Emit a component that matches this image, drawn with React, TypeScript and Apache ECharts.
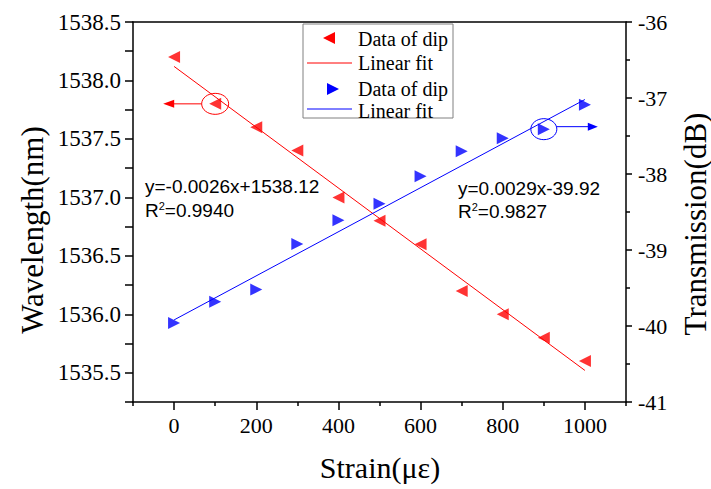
import React, { useEffect, useRef } from "react";
import * as echarts from "echarts";

// ---- data ----
const strain = [0, 100, 200, 300, 400, 500, 600, 700, 800, 900, 1000];
const wavelength = [1538.2, 1537.8, 1537.6, 1537.4, 1537.0, 1536.8, 1536.6, 1536.2, 1536.0, 1535.8, 1535.6];
const transmission = [-39.96, -39.68, -39.52, -38.92, -38.61, -38.39, -38.03, -37.7, -37.53, -37.41, -37.09];
const fitStrain = [0, 1000];
const wavelengthFit = [1538.12, 1535.52];
const transmissionFit = [-39.92, -37.02];

const xMajorTicks = [0, 200, 400, 600, 800, 1000];
const xMinorTicks = [-100, 100, 300, 500, 700, 900, 1100];
const leftTicks = [1535.25, 1535.5, 1535.75, 1536.0, 1536.25, 1536.5, 1536.75, 1537.0, 1537.25, 1537.5, 1537.75, 1538.0, 1538.25, 1538.5];
const leftLabels = [1535.5, 1536.0, 1536.5, 1537.0, 1537.5, 1538.0, 1538.5];
const rightLabels = [-41, -40, -39, -38, -37, -36];

const legendTexts = ["Data of dip", "Linear fit", "Data of dip", "Linear fit"];
const redEq = "y=-0.0026x+1538.12";
const redR2 = "0.9940";
const blueEq = "y=0.0029x-39.92";
const blueR2 = "0.9827";

const SERIF = "Liberation Serif";
const SANS = "Liberation Sans";
const RED = "#ff0000";
const BLUE = "#0000ff";
const AX = { color: "#000", width: 1.5 };

export default function App() {
  const ref = useRef<HTMLDivElement>(null);
  useEffect(() => {
    const chart = echarts.init(ref.current!, null, { renderer: "svg" });
    chart.setOption({
      animation: false,
      backgroundColor: "#fff",
      grid: { left: 133, top: 22, right: 85, bottom: 87, containLabel: false, outerBoundsMode: "none" },
      xAxis: [
        {
          type: "value", min: -100, max: 1100, position: "bottom",
          axisLine: { onZero: false, lineStyle: AX },
          axisTick: { show: true, length: 8, customValues: xMajorTicks, lineStyle: AX },
          axisLabel: { show: false },
          splitLine: { show: false },
        },
        {
          type: "value", min: -100, max: 1100, position: "bottom",
          axisLine: { show: false, onZero: false },
          axisTick: { show: true, length: 4, customValues: xMinorTicks, lineStyle: AX },
          axisLabel: { show: false },
          splitLine: { show: false },
        },
        {
          type: "value", min: -100, max: 1100, position: "top",
          axisLine: { onZero: false, lineStyle: AX },
          axisTick: { show: false },
          axisLabel: { show: false },
          splitLine: { show: false },
        },
      ],
      yAxis: [
        {
          type: "value", min: 1535.25, max: 1538.5, position: "left",
          axisLine: { onZero: false, lineStyle: AX },
          axisTick: { show: true, length: 8, customValues: leftTicks, lineStyle: AX },
          axisLabel: { show: false },
          splitLine: { show: false },
        },
        {
          type: "value", min: -41, max: -36, interval: 1, position: "right",
          axisLine: { onZero: false, lineStyle: AX },
          axisTick: { show: true, length: 6, lineStyle: AX },
          minorTick: { show: true, splitNumber: 2, length: 4, lineStyle: AX },
          axisLabel: { show: false },
          splitLine: { show: false },
        },
      ],
      series: [
        {
          type: "scatter", xAxisIndex: 0, yAxisIndex: 0,
          data: strain.map((s, i) => [s, wavelength[i]]),
          symbol: "triangle", symbolRotate: 90, symbolSize: 12,
          itemStyle: { color: RED }, z: 3,
        },
        {
          type: "line", xAxisIndex: 0, yAxisIndex: 0,
          data: fitStrain.map((s, i) => [s, wavelengthFit[i]]),
          showSymbol: false, lineStyle: { color: RED, width: 1 }, z: 2,
        },
        {
          type: "scatter", xAxisIndex: 0, yAxisIndex: 1,
          data: strain.map((s, i) => [s, transmission[i]]),
          symbol: "triangle", symbolRotate: -90, symbolSize: 12,
          itemStyle: { color: BLUE }, z: 3,
        },
        {
          type: "line", xAxisIndex: 0, yAxisIndex: 1,
          data: fitStrain.map((s, i) => [s, transmissionFit[i]]),
          showSymbol: false, lineStyle: { color: BLUE, width: 1 }, z: 2,
        },
      ],
    });

    const pR = chart.convertToPixel({ seriesIndex: 0 }, [strain[1], wavelength[1]]) as number[];
    const pB = chart.convertToPixel({ seriesIndex: 2 }, [strain[9], transmission[9]]) as number[];
    const xPix = (v: number) => (chart.convertToPixel({ xAxisIndex: 0 }, v) as number);
    const yLPix = (v: number) => (chart.convertToPixel({ yAxisIndex: 0 }, v) as number);
    const yRPix = (v: number) => (chart.convertToPixel({ yAxisIndex: 1 }, v) as number);

    const txt = (text: string, x: number, y: number, fontFamily: string, fontSize: number, align: string) => ({
      type: "text", x, y, z: 10,
      style: { text, fontFamily, fontSize, fill: "#000", align, verticalAlign: "middle" },
    });
    const r2Style = (val: string, x: number, y: number) => ({
      type: "text", x, y, z: 10,
      style: {
        text: "R{s|2}=" + val, fontFamily: SANS, fontSize: 19, fill: "#000", align: "left", verticalAlign: "middle",
        rich: { s: { fontFamily: SANS, fontSize: 11, verticalAlign: "top", fill: "#000", padding: [0, 0, 8, 0] } },
      },
    });

    const tickTexts = [
      ...xMajorTicks.map((v) => txt(String(v), xPix(v), 425, SERIF, 22, "center")),
      ...leftLabels.map((v) => txt(v.toFixed(1), 121, yLPix(v), SERIF, 23, "right")),
      ...rightLabels.map((v) => txt(String(v), 638, yRPix(v), SERIF, 22, "left")),
    ];

    chart.setOption({
      graphic: [
        ...tickTexts,
        // legend
        { type: "rect", shape: { x: 303, y: 24, width: 150, height: 94 }, style: { fill: "#fff", stroke: "#808080", lineWidth: 1 }, z: 9 },
        { type: "polygon", shape: { points: [[323, 38], [335, 32], [335, 44]] }, style: { fill: RED }, z: 10 },
        { type: "line", shape: { x1: 307, y1: 63, x2: 352, y2: 63 }, style: { stroke: RED, lineWidth: 1 }, z: 10 },
        { type: "polygon", shape: { points: [[339, 89], [327, 83], [327, 95]] }, style: { fill: BLUE }, z: 10 },
        { type: "line", shape: { x1: 307, y1: 109, x2: 352, y2: 109 }, style: { stroke: BLUE, lineWidth: 1 }, z: 10 },
        txt(legendTexts[0], 358, 39, SERIF, 20, "left"),
        txt(legendTexts[1], 358, 63, SERIF, 20, "left"),
        txt(legendTexts[2], 358, 89, SERIF, 20, "left"),
        txt(legendTexts[3], 358, 111, SERIF, 20, "left"),
        // equations
        txt(redEq, 145, 186, SANS, 19, "left"),
        r2Style(redR2, 145, 210),
        txt(blueEq, 458, 188, SANS, 19, "left"),
        r2Style(blueR2, 458, 211),
        // red circle + arrow to left axis
        { type: "ellipse", shape: { cx: pR[0], cy: pR[1], rx: 13.5, ry: 10.5 }, style: { fill: "none", stroke: RED, lineWidth: 1 }, z: 10 },
        { type: "line", shape: { x1: pR[0] - 13.5, y1: pR[1], x2: pR[0] - 42, y2: pR[1] }, style: { stroke: RED, lineWidth: 1 }, z: 10 },
        { type: "polygon", shape: { points: [[pR[0] - 52, pR[1]], [pR[0] - 41, pR[1] - 4], [pR[0] - 41, pR[1] + 4]] }, style: { fill: RED }, z: 10 },
        // blue circle + arrow to right axis
        { type: "ellipse", shape: { cx: pB[0], cy: pB[1], rx: 13, ry: 10.5 }, style: { fill: "none", stroke: BLUE, lineWidth: 1 }, z: 10 },
        { type: "line", shape: { x1: pB[0] + 13, y1: pB[1] - 2.5, x2: pB[0] + 45, y2: pB[1] - 2.5 }, style: { stroke: BLUE, lineWidth: 1 }, z: 10 },
        { type: "polygon", shape: { points: [[pB[0] + 54, pB[1] - 2.5], [pB[0] + 44, pB[1] - 6.5], [pB[0] + 44, pB[1] + 1.5]] }, style: { fill: BLUE }, z: 10 },
        // axis titles
        { type: "text", x: 32, y: 230, rotation: Math.PI / 2, z: 10, style: { text: "Wavelength(nm)", fontFamily: SERIF, fontSize: 31, fill: "#000", align: "center", verticalAlign: "middle" } },
        { type: "text", x: 695, y: 224, rotation: Math.PI / 2, z: 10, style: { text: "Transmission(dB)", fontFamily: SERIF, fontSize: 31, fill: "#000", align: "center", verticalAlign: "middle" } },
        { type: "text", x: 380, y: 467, z: 10, style: { text: "Strain(με)", fontFamily: SERIF, fontSize: 30, fill: "#000", align: "center", verticalAlign: "middle" } },
      ],
    });
    return () => chart.dispose();
  }, []);
  return <div ref={ref} style={{ position: "absolute", left: 0, top: 0, width: 711, height: 489, background: "#fff" }} />;
}
